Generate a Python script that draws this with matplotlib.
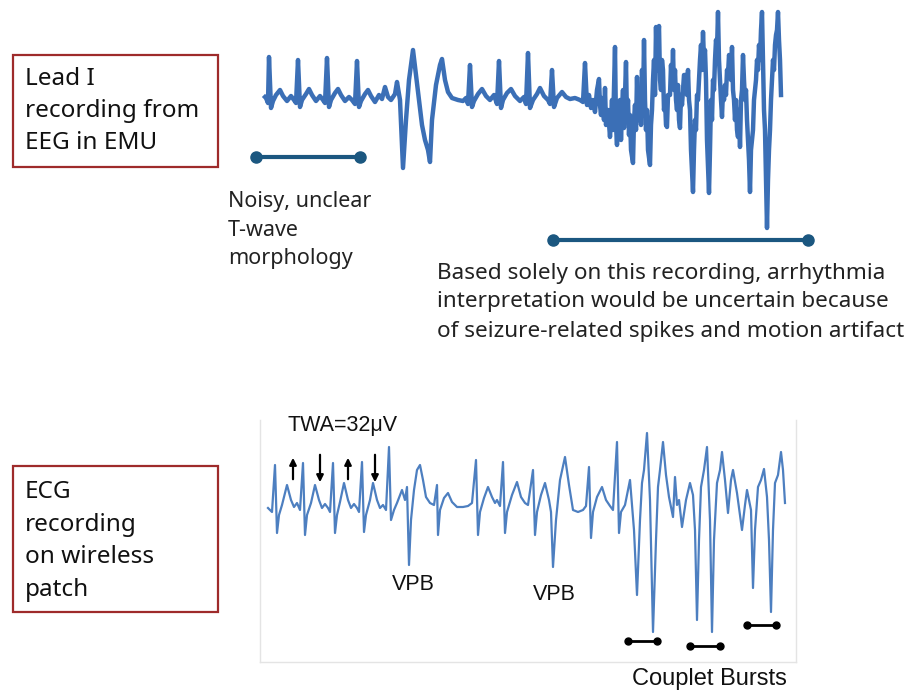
import matplotlib
matplotlib.use("Agg")
import matplotlib.pyplot as plt
from matplotlib.patches import Rectangle

# ---------------- data (time in samples, amplitude in arbitrary units) ----------------
eeg_t = [5, 6, 8, 9, 11, 13, 16, 20, 23, 27, 31, 34, 36,
         38, 40, 42, 46, 49, 52, 56, 60, 63, 65,
         67, 69, 71, 75, 78, 81, 85, 89, 92, 95,
         97, 99, 101, 105, 108, 111, 115, 119, 122, 125, 128, 131, 135, 137, 140, 143, 146, 149,
         153, 156, 159, 162, 165, 168, 170, 172, 176, 180, 182, 185, 188, 192, 198, 203, 206, 208,
         210, 212, 214, 218, 222, 226, 230, 234, 237, 239, 241, 243, 247, 251, 255, 260, 264, 266,
         268, 270, 273, 277, 280, 284, 288, 290, 292, 294, 297, 302, 306, 310, 315, 320,
         323, 325, 327, 329, 331, 333, 335, 337, 339, 340, 341, 342, 344, 345, 346, 348, 350, 351,
         352, 353, 355, 356, 357, 358, 359, 360, 361, 362, 363, 364, 366, 367, 368, 369, 370, 371,
         373, 374, 375, 376, 377, 378, 380, 381, 382, 383, 384, 385, 386, 387, 388, 390, 391, 392,
         393, 394, 395, 396, 397, 398, 399, 400, 401, 402, 403, 404, 405, 406, 407, 408, 410, 411,
         412, 413, 414, 415, 416, 417, 418, 419, 420, 421, 422, 423, 424, 426, 427, 428, 429, 430,
         431, 433, 434, 435, 436, 437, 438, 439, 440, 441, 442, 443, 444, 445, 446, 447, 449, 450,
         451, 452, 453, 454, 455, 456, 457, 458, 459, 460, 461, 462, 463, 464, 465, 466, 467, 468,
         469, 470, 471, 472, 473, 474, 475, 476, 477, 478, 479, 480, 481, 482, 483, 484, 485, 486,
         487, 488, 489, 490, 491, 492, 493, 494, 495, 496, 497, 498, 499, 500, 501, 502, 503, 504,
         505, 506, 507, 508, 509, 510, 511, 512, 513, 514, 515, 516, 517, 518, 519, 520, 521]
eeg_amp = [3, 2, -3, 43, -8, -1, 5, 10, 4, -1, 4, 0, -3,
           40, -7, 0, 6, 11, 5, -1, 4, 0, -3,
           42, -7, 0, 7, 11, 5, -1, 3, 0, -4,
           39, -7, -1, 6, 10, 4, -2, 5, 1, 13, 3, 0, 6, 18, 0, -68, -20, 20,
           50, 25, 0, -25, -40, -50, -62, -20, 15, 35, 41, 20, 8, 2, 0, -1, 2, -4,
           35, -7, -1, 6, 11, 4, 0, 5, -4, 39, -8, 0, 7, 11, 4, -1, 3, -4,
           47, -8, 0, 6, 12, 4, 0, -4, 30, -7, 2, 8, 3, 1, 2, 0,
           -2, 37, -5, 5, -8, 0, -12, 10, 21, -5, -15, 2, -20, 12, -25, -10, -37, -18,
           0, -30, 53, -25, -45, -5, -30, 0, -40, -10, 10, -28, 38, -20, 0, -35, -15, -50,
           -63, -20, -5, -30, 23, -20, 5, -25, 30, -10, 60, 0, -30, -10, -50, -65, -25, -10,
           20, 40, 5, 73, 30, 60, 74, 20, 10, 40, 30, -10, 0, -25, -27, 5, 5, 35,
           15, 50, 10, 30, 0, -10, 15, -20, -28, 5, -5, 10, 25, 25, 5, 30, 0, -10,
           -50, -92, -50, -20, -30, 5, 0, 20, 40, 55, 30, 68, 40, 50, 20, -40, -93, -50,
           0, -20, 20, 10, 40, 60, 50, 88, 40, 20, 0, -17, 10, 0, 15, 5, 30, 25,
           45, 40, 20, 53, 10, 0, -20, 0, -30, -37, -10, -47, 0, 10, 45, 20, 0, 10,
           -20, -40, -60, -92, -50, -40, -30, 0, 10, 20, 40, 30, 55, 40, 70, 88, 40, -10,
           -30, -80, -128, -80, -50, -30, 0, 20, 40, 30, 55, 65, 70, 88, 60, 40, 5]

ecg_t = [8, 12, 15, 17, 19, 22, 27, 31, 34, 37, 40, 43, 45, 47, 51, 55, 59, 62, 65, 68,
         70, 73, 75, 77, 80, 84, 88, 91, 94, 97, 99, 102, 104, 106, 110, 113, 117, 120, 123,
         126, 129, 131, 134, 137, 142, 145, 147, 149, 151, 154, 157, 160, 163, 166, 170, 174,
         177, 178, 180, 184, 188, 192, 197, 203, 208, 212, 216, 218, 220, 224, 228, 232, 235,
         237, 240, 243, 245, 247, 252, 257, 261, 265, 268, 273, 275, 277, 281, 285, 289, 291,
         293, 296, 300, 305, 309, 313, 318, 323, 326, 329, 331, 333, 337, 342, 346, 350, 353,
         357, 359, 361, 365, 370, 374, 377, 380, 382, 384, 387, 390, 393, 396, 398, 400, 403,
         406, 409, 413, 415, 417, 419, 422, 426, 430, 433, 435, 437, 439, 441, 444, 447, 450,
         452, 454, 457, 460, 462, 465, 468, 471, 473, 477, 482, 485, 487, 489, 491, 493, 495,
         498, 501, 504, 507, 509, 511, 513, 515, 518, 521, 523, 525]
ecg_amp = [2, -2, 45, -23, -5, 5, 25, 10, 3, 7, 0, 47, -25, -5, 7, 25, 10, 2, 6, 2,
           -2, 47, -23, -5, 8, 27, 10, 2, 6, 2, -2, 48, -22, -5, 10, 27, 10, 2, 5,
           0, 63, -10, 0, 7, 20, 10, 23, -55, -10, 20, 40, 45, 30, 13, 7, 5,
           25, -25, 0, 12, 17, 8, 3, 3, 4, 7, 50, -25, -2, 12, 23, 13, 7,
           10, 4, 48, -23, -2, 15, 28, 13, 7, 5, 40, -25, -2, 15, 27, 10, -2,
           -57, -10, 30, 53, 25, 0, -2, 0, 4, 43, -28, -2, 13, 23, 10, 4, 0,
           68, -23, -2, 5, 30, -20, -85, -10, 27, 40, 77, 10, -122, -30, 23, 40, 68,
           35, 13, -7, 33, 5, 10, -17, 10, 27, 15, -20, -110, -30, 23, 40, 63, -10,
           -122, -30, 27, 40, 58, 30, -3, 30, 40, 17, -20, 5, 20, 10, 0, -78, -20,
           23, 30, 41, 13, -30, -102, -20, 27, 35, 58, 40, 7]

twa_up_x = [293, 348]
twa_down_x = [320, 375]

# ---------------- figure ----------------
W, H = 908, 692
fig = plt.figure(figsize=(W / 100, H / 100), dpi=100)

ov = fig.add_axes([0, 0, 1, 1])
ov.set_xlim(0, W)
ov.set_ylim(H, 0)
ov.axis("off")

top_font = ["Noto Sans", "DejaVu Sans"]
bot_font = ["Liberation Sans", "DejaVu Sans"]
box_col = "#9e2b2b"
dumb_col = "#1b5780"

# label boxes
ov.add_patch(Rectangle((13, 55), 205, 112, fill=False, ec=box_col, lw=1.6))
ov.text(25, 111, "Lead I\nrecording from\nEEG in EMU", family=top_font, fontsize=17.5,
        va="center", ha="left", linespacing=1.45, color="#111111")
ov.add_patch(Rectangle((13, 466), 205, 146, fill=False, ec=box_col, lw=1.6))
ov.text(25, 541, "ECG\nrecording\non wireless\npatch", family=top_font, fontsize=17.5,
        va="center", ha="left", linespacing=1.48, color="#111111")

# dumbbells (top)
ov.plot([256, 360], [157, 157], color=dumb_col, lw=3, marker="o", ms=8, mfc=dumb_col, mec=dumb_col)
ov.plot([553, 808], [240, 240], color=dumb_col, lw=3, marker="o", ms=8, mfc=dumb_col, mec=dumb_col)

ov.text(228, 230, "Noisy, unclear\nT-wave\nmorphology", family=top_font, fontsize=15.5,
        va="center", ha="left", linespacing=1.45, color="#222222")
ov.text(437, 302, "Based solely on this recording, arrhythmia\ninterpretation would be uncertain because\n"
        "of seizure-related spikes and motion artifact", family=top_font, fontsize=16.2,
        va="center", ha="left", linespacing=1.5, color="#222222")

# bottom annotations
ov.text(287, 425, "TWA=32\u03bcV", family=bot_font, fontsize=15.5, va="center", ha="left", color="#111111")
for x in twa_up_x:
    ov.annotate("", xy=(x, 455), xytext=(x, 482),
                arrowprops=dict(arrowstyle="-|>", color="black", lw=1.6, mutation_scale=10))
for x in twa_down_x:
    ov.annotate("", xy=(x, 485), xytext=(x, 452),
                arrowprops=dict(arrowstyle="-|>", color="black", lw=1.6, mutation_scale=10))
ov.text(392, 584, "VPB", family=bot_font, fontsize=15.5, va="center", ha="left", color="#111111")
ov.text(533, 594, "VPB", family=bot_font, fontsize=15.5, va="center", ha="left", color="#111111")
for (x0, x1, y) in [(628, 657, 641), (690, 720, 646), (747, 776, 625)]:
    ov.plot([x0, x1], [y, y], color="black", lw=2, marker="o", ms=5)
ov.text(632, 679, "Couplet Bursts", family=bot_font, fontsize=17, va="center", ha="left", color="#111111")

# top trace (EEG lead I)
ax1 = fig.add_axes([260 / W, 1 - 232 / H, 525 / W, 224 / H])
ax1.plot(eeg_t, eeg_amp, color="#3b6fb6", lw=3.2, solid_joinstyle="round")
ax1.set_xlim(0, 525)
ax1.set_ylim(-132, 92)
ax1.axis("off")
ax1.patch.set_alpha(0)

# bottom trace (ECG patch)
ax2 = fig.add_axes([260 / W, 1 - 662 / H, 536 / W, 242 / H])
ax2.plot(ecg_t, ecg_amp, color="#4d7fc0", lw=1.6, solid_joinstyle="round")
ax2.set_xlim(0, 536)
ax2.set_ylim(-152, 90)
ax2.set_xticks([])
ax2.set_yticks([])
ax2.patch.set_alpha(0)
for s in ["left", "right", "bottom"]:
    ax2.spines[s].set_color("#e4e4e4")
    ax2.spines[s].set_linewidth(1)
ax2.spines["top"].set_visible(False)

fig.savefig("out.png", dpi=100)
